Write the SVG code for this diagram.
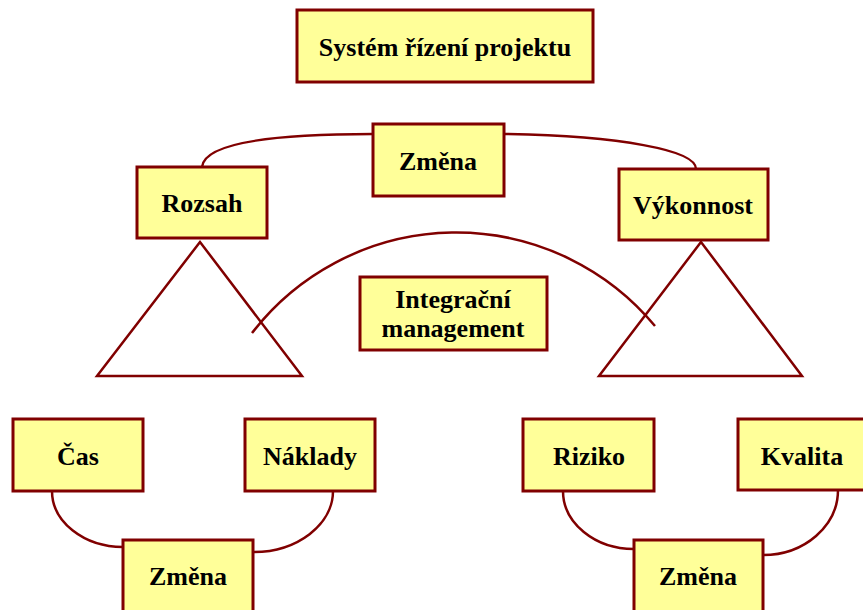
<svg xmlns="http://www.w3.org/2000/svg" width="863" height="610" viewBox="0 0 863 610">
  <style>
    .box { fill: #FFFF99; stroke: #800000; stroke-width: 3; }
    .line { fill: none; stroke: #800000; stroke-width: 2.5; }
    .lbl { font-family: "Liberation Serif", "Times New Roman", serif; font-weight: bold; font-size: 26px; fill: #000; text-anchor: middle; }
  </style>
  <rect width="863" height="610" fill="#fff"/>

  <g id="connectors">
    <!-- upper arc: Rozsah - Změna - Výkonnost -->
    <path class="line" d="M202,167 C204,145 260,134 373,134"/>
    <path class="line" d="M504,134 C620,136 696,150 696,169"/>
    <!-- integration arc crossing both triangles -->
    <path class="line" d="M252,333 A258,258 0 0 1 655,326"/>
    <!-- triangles under Rozsah and Výkonnost -->
    <polygon class="line" points="200,242 97,376 302,376"/>
    <polygon class="line" points="701,242 599,376 802,376"/>
    <!-- lower left: Čas - Změna - Náklady -->
    <path class="line" d="M52,491 A71,56 0 0 0 123,547"/>
    <path class="line" d="M333,491 A80,61 0 0 1 253,552"/>
    <!-- lower right: Riziko - Změna - Kvalita -->
    <path class="line" d="M563,491 A71,58 0 0 0 634,549"/>
    <path class="line" d="M838,490 A75,65 0 0 1 763,555"/>
  </g>

  <g id="system">
    <rect class="box" x="297" y="10" width="296" height="72"/>
    <text class="lbl" x="445" y="56">Systém řízení projektu</text>
  </g>
  <g id="zmena-top">
    <rect class="box" x="373" y="124" width="131" height="72"/>
    <text class="lbl" x="438" y="170">Změna</text>
  </g>
  <g id="rozsah">
    <rect class="box" x="137" y="167" width="130" height="71"/>
    <text class="lbl" x="202" y="212">Rozsah</text>
  </g>
  <g id="vykonnost">
    <rect class="box" x="619" y="169" width="149" height="71"/>
    <text class="lbl" x="693" y="214">Výkonnost</text>
  </g>
  <g id="integracni">
    <rect class="box" x="360" y="277" width="187" height="73"/>
    <text class="lbl" x="453" y="308">Integrační</text>
    <text class="lbl" x="453" y="337">management</text>
  </g>
  <g id="cas">
    <rect class="box" x="13" y="419" width="130" height="72"/>
    <text class="lbl" x="78" y="465">Čas</text>
  </g>
  <g id="naklady">
    <rect class="box" x="245" y="419" width="130" height="72"/>
    <text class="lbl" x="310" y="465">Náklady</text>
  </g>
  <g id="zmena-left">
    <rect class="box" x="123" y="540" width="130" height="80"/>
    <text class="lbl" x="188" y="585">Změna</text>
  </g>
  <g id="riziko">
    <rect class="box" x="523" y="419" width="131" height="72"/>
    <text class="lbl" x="589" y="465">Riziko</text>
  </g>
  <g id="kvalita">
    <rect class="box" x="738" y="419" width="130" height="71"/>
    <text class="lbl" x="802" y="465">Kvalita</text>
  </g>
  <g id="zmena-right">
    <rect class="box" x="634" y="540" width="129" height="80"/>
    <text class="lbl" x="698" y="585">Změna</text>
  </g>
</svg>
